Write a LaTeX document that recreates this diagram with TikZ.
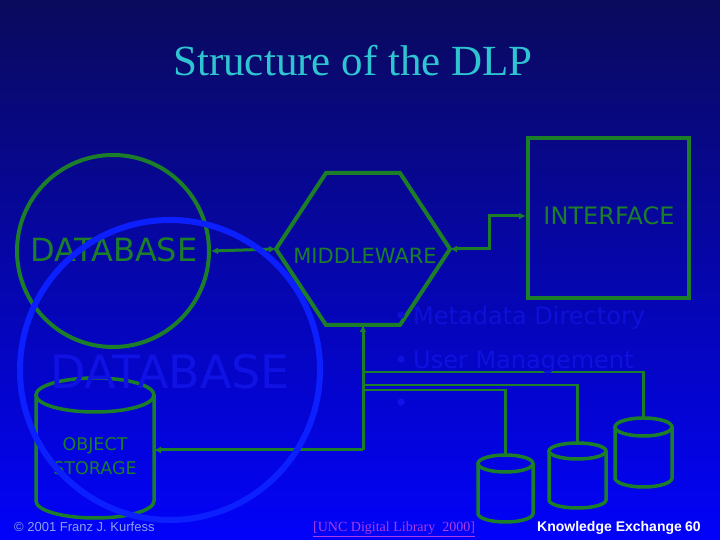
\documentclass[tikz,border=0pt]{standalone}
\usepackage{fontspec}
\setmainfont{Liberation Serif}
\newfontfamily\dejavu{DejaVu Sans}
\newfontfamily\arial{Liberation Sans}
\usetikzlibrary{arrows.meta,shapes.geometric}
\definecolor{bgtop}{RGB}{10,10,92}
\definecolor{bgmid}{RGB}{0,0,196}
\definecolor{bgbot}{RGB}{2,2,250}
\definecolor{dlpgreen}{RGB}{28,126,40}
\definecolor{titlecyan}{RGB}{46,196,208}
\definecolor{ringblue}{RGB}{12,32,255}
\definecolor{ghostA}{RGB}{14,16,215}
\definecolor{ghostB}{RGB}{15,17,223}
\definecolor{ghostC}{RGB}{16,18,228}
\definecolor{ghostD}{RGB}{16,18,233}
\definecolor{footgray}{RGB}{140,160,236}
\definecolor{linkpurple}{RGB}{170,60,230}
\tikzset{
  >={Latex[length=7pt,width=7pt]},
  gline/.style={draw=dlpgreen,line width=4pt},
  conn/.style={draw=dlpgreen,line width=3pt},
  thinconn/.style={draw=dlpgreen,line width=2.6pt},
  gtext/.style={text=dlpgreen,font=\dejavu\fontsize{#1}{#1}\selectfont,inner sep=0pt},
  ghosttext/.style={font=\dejavu\fontsize{#1}{#1}\selectfont,inner sep=0pt},
}
\newcommand\drawcyl[5]{% cx, top center y, bottom center y, rx, ry
  \draw[gline,line width=3.5pt] (#1-#4,#2) -- (#1-#4,#3) arc[start angle=180,end angle=360,x radius=#4,y radius=#5] -- (#1+#4,#2);
  \draw[gline,line width=3.5pt] (#1,#2) ellipse[x radius=#4,y radius=#5];
}
\begin{document}
\begin{tikzpicture}[x=1pt,y=1pt]
\useasboundingbox (0,0) rectangle (720,540);
\shade[top color=bgtop,middle color=bgmid,bottom color=bgbot] (0,0) rectangle (720,540);

% title
\node[anchor=base,text=titlecyan,font=\fontsize{43}{43}\selectfont,inner sep=0pt] (title) at (353,464) {Structure of the DLP};

% database circle
\node[circle,gline,minimum size=192pt,inner sep=0pt] (db) at (113,289) {};
\node[gtext=32] (dbt) at (114,290) {DATABASE};

% middleware hexagon
\coordinate (mwc) at (363,291);
\draw[gline] (326,367) coordinate (h1) -- (400,367) -- (450,291) coordinate (mwE) -- (400,215) -- (326,215) -- (276,291) coordinate (mwW) -- cycle;
\coordinate (mwS) at (363,215);
\node[gtext=21] (mwt) at (365,284) {MIDDLEWARE};

% interface box
\node[gline,draw,rectangle,minimum width=161pt,minimum height=160pt,inner sep=0pt] (ui) at (608.5,322) {};
\node[gtext=24] (uit) at (609,324) {INTERFACE};

% connectors
\draw[conn,<->] (db.east) -- (mwW);
\coordinate (uiL) at (ui.west |- 0,324);
\draw[conn,<->] (mwE) -- (489,291) |- (uiL);

% object storage
\drawcyl{95}{145}{39}{59}{17}
\coordinate (osR) at (154,90);
\node[gtext=17.5] (os1) at (95,94) {OBJECT};
\node[gtext=17.5] (os2) at (95,72) {STORAGE};

% right storage cylinders
\drawcyl{505.5}{76.5}{26.5}{27.5}{8.5}
\coordinate (c1) at (505.5,85);
\drawcyl{577.5}{89}{40}{28.5}{8}
\coordinate (c2) at (577.5,97);
\drawcyl{643.5}{113}{62}{28.5}{9}
\coordinate (c3) at (643.5,122);

\coordinate (bus) at (363,90);
\draw[conn,->] (bus) -- (mwS);
\draw[conn,->] (bus) -- (osR);
\draw[thinconn] (363,168) -| (c3);
\draw[thinconn] (363,155) -| (c2);
\draw[thinconn] (363,150) -| (c1);

% big blue ring on top
\draw[draw=ringblue,line width=6pt] (170,170) circle[radius=150];

% ghost texts
\node[ghosttext=46,text=ghostC] (gdb) at (170,168) {DATABASE};
\node[ghosttext=24,anchor=west,text=ghostA] (gmd) at (413,222) {Metadata Directory};
\node[ghosttext=24,anchor=west,text=ghostA] (gb1) at (394,222) {•};
\node[ghosttext=24,anchor=west,text=ghostB] (gum) at (413,178) {User Management};
\node[ghosttext=24,anchor=west,text=ghostB] (gb2) at (394,178) {•};
\node[ghosttext=24,anchor=west,text=ghostD] (gb3) at (394,135) {•};

% footer
\node[anchor=base west,text=footgray,font=\arial\fontsize{13}{13}\selectfont,inner sep=0pt] (copy) at (14,8) {© 2001 Franz J. Kurfess};
\node[anchor=base west,text=linkpurple,font=\fontsize{14}{14}\selectfont,inner sep=0pt] (unc) at (313,8) {\underline{[UNC Digital Library\ \ 2000]}};
\node[anchor=base west,text=white,font=\arial\bfseries\fontsize{14}{14}\selectfont,inner sep=0pt] (ke) at (537,8) {Knowledge Exchange};
\node[anchor=base west,text=white,font=\arial\bfseries\fontsize{14}{14}\selectfont,inner sep=0pt] (pg) at (685,8) {60};
\end{tikzpicture}
\end{document}
